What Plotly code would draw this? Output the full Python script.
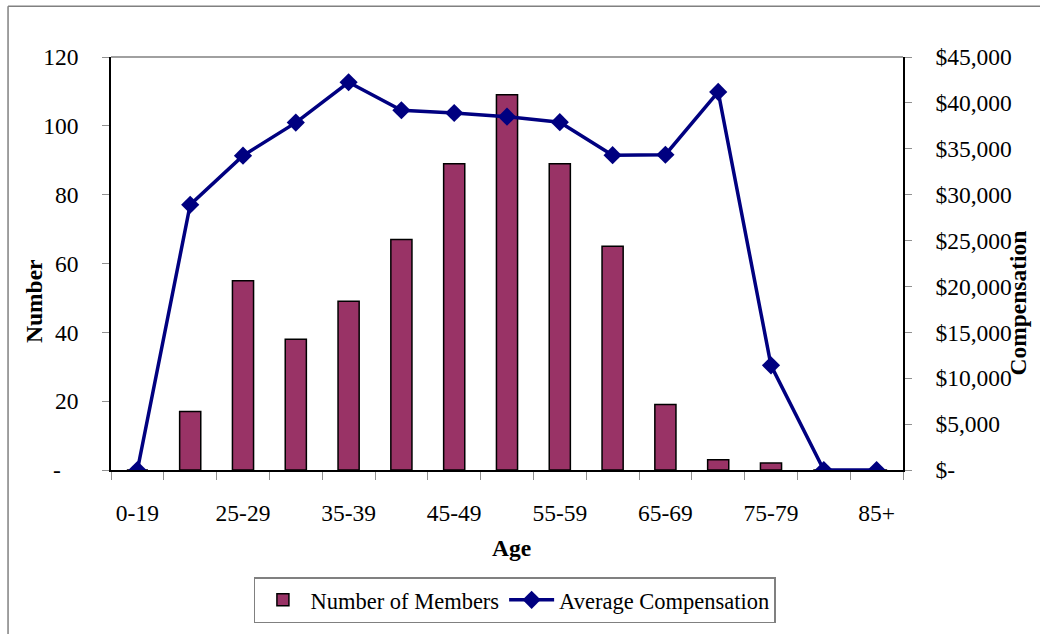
import plotly.graph_objects as go

# Age bands and membership data
age_groups = ["0-19", "20-24", "25-29", "30-34", "35-39", "40-44", "45-49",
              "50-54", "55-59", "60-64", "65-69", "70-74", "75-79", "80-84", "85+"]
members = [0, 17, 55, 38, 49, 67, 89, 109, 89, 65, 19, 3, 2, 0, 0]
avg_comp = [0, 28900, 34250, 37850, 42250, 39200, 38900, 38500, 37900,
            34300, 34350, 41200, 11400, 0, 0]

# Axis tick definitions
count_ticks = [0, 20, 40, 60, 80, 100, 120]
count_labels = ["-\u00a0\u00a0\u00a0", "20", "40", "60", "80", "100", "120"]
comp_ticks = [0, 5000, 10000, 15000, 20000, 25000, 30000, 35000, 40000, 45000]
comp_labels = ["$-\u00a0\u00a0\u00a0\u00a0\u00a0\u00a0", "$5,000", "$10,000", "$15,000", "$20,000",
               "$25,000", "$30,000", "$35,000", "$40,000", "$45,000"]
# every other age band is labelled
age_labels = [a if i % 2 == 0 else "" for i, a in enumerate(age_groups)]
n_groups = len(age_groups)

FONT = "Liberation Serif, Times New Roman, serif"
FS = 23.5
BAR_COLOR = "#993366"
LINE_COLOR = "#000080"
TICK_COLOR = "#909090"

fig = go.Figure()
fig.add_trace(go.Bar(
    x=age_groups, y=members, name="Number of Members",
    marker=dict(color=BAR_COLOR, line=dict(color="black", width=1.5)),
    yaxis="y",
))
fig.add_trace(go.Scatter(
    x=age_groups, y=avg_comp, name="Average Compensation",
    mode="lines+markers",
    line=dict(color=LINE_COLOR, width=3.5),
    marker=dict(symbol="diamond", size=14, color=LINE_COLOR),
    yaxis="y2",
))

fig.update_layout(
    width=1040, height=634,
    margin=dict(l=111, r=137, t=57, b=163),
    paper_bgcolor="white", plot_bgcolor="white",
    font=dict(family=FONT, size=FS, color="black"),
    bargap=0.6,
    showlegend=True,
    legend=dict(
        orientation="h", x=0.51, xanchor="center", y=-0.312, yanchor="middle",
        bordercolor="#808080", borderwidth=1.5,
        font=dict(family=FONT, size=22.5, color="black"),
        itemwidth=45, traceorder="normal",
    ),
    xaxis=dict(
        type="category", categoryorder="array", categoryarray=age_groups,
        range=[-0.5, n_groups - 0.5], tickson="boundaries",
        tickmode="array", tickvals=age_groups, ticktext=age_labels, tickangle=0,
        ticks="outside", ticklen=8, tickcolor=TICK_COLOR,
        showline=True, linecolor="black", linewidth=1.5,
        showgrid=False, zeroline=False, ticklabelstandoff=21,
    ),
    yaxis=dict(
        range=[0, 120], tickmode="array", tickvals=count_ticks, ticktext=count_labels,
        ticks="outside", ticklen=7, tickcolor=TICK_COLOR,
        showline=True, linecolor="black", linewidth=1.5,
        showgrid=False, zeroline=False, ticklabelstandoff=19,
    ),
    yaxis2=dict(
        range=[0, 45000], overlaying="y", side="right", anchor="x",
        tickmode="array", tickvals=comp_ticks, ticktext=comp_labels,
        ticks="outside", ticklen=7, tickcolor=TICK_COLOR,
        showline=True, linecolor="black", linewidth=1.5,
        showgrid=False, zeroline=False, ticklabelstandoff=19,
    ),
)

# Axis titles
title_font = dict(family=FONT, size=FS, color="black", weight="bold")
fig.add_annotation(text="Number", xref="paper", yref="paper", x=-0.098, y=0.41,
                   xanchor="center", yanchor="middle",
                   textangle=-90, showarrow=False, font=title_font)
fig.add_annotation(text="Compensation", xref="paper", yref="paper", x=1.145, y=0.405,
                   xanchor="center", yanchor="middle",
                   textangle=-90, showarrow=False, font=title_font)
fig.add_annotation(text="Age", xref="paper", yref="paper", x=0.506, y=-0.188,
                   xanchor="center", yanchor="middle",
                   showarrow=False, font=title_font)

# Plot-area top edge and chart frame
fig.add_shape(type="line", xref="paper", yref="paper", x0=0, x1=1, y0=1, y1=1,
              line=dict(color="#808080", width=1.5))
fig.add_shape(type="line", xref="paper", yref="paper", x0=-0.13, x1=1.2, y0=1.123, y1=1.123,
              line=dict(color="#808080", width=1.5))
fig.add_shape(type="line", xref="paper", yref="paper", x0=-0.13, x1=-0.13, y0=1.123, y1=-0.45,
              line=dict(color="#808080", width=1.5))

fig.write_html("out.html")
